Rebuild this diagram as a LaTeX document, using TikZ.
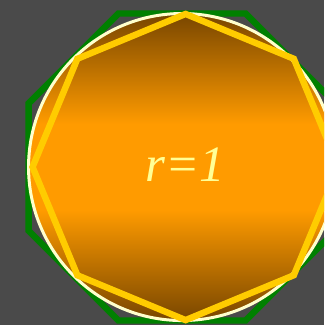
\documentclass[tikz,border=0pt]{standalone}
\usepackage{fontspec}
\setmainfont{Liberation Serif}
\definecolor{bgray}{RGB}{74,74,74}
\definecolor{dbrown}{RGB}{120,70,0}
\definecolor{orng}{RGB}{255,155,0}
\definecolor{rimcol}{RGB}{255,255,204}
\definecolor{goldline}{RGB}{255,204,0}
\definecolor{greenline}{RGB}{0,128,0}
\definecolor{labelcol}{RGB}{255,255,150}
\pgfdeclareverticalshading{discband}{100bp}{color(0bp)=(dbrown); color(25bp)=(dbrown); color(43bp)=(orng); color(57bp)=(orng); color(75bp)=(dbrown); color(100bp)=(dbrown)}
\tikzset{
  outerpoly/.style={draw=greenline, line width=3.2pt},
  rim/.style={draw=rimcol, line width=1.5pt},
  innerpoly/.style={draw=goldline, line width=3.2pt},
  radlabel/.style={text=labelcol, anchor=base, inner sep=0pt, font=\fontsize{25.5}{30}\selectfont\itshape}
}
\begin{document}
\begin{tikzpicture}[scale=2.7]
\fill[bgray] (-1.186,-1.029) rectangle (0.925,1.088);
\useasboundingbox (-1.186,-1.029) rectangle (0.925,1.088);
\clip (-1.186,-1.029) rectangle (0.925,1.088);
\draw[outerpoly] (22.5:1.0824) \foreach \a in {67.5,112.5,...,337.5} { -- (\a:1.0824) } -- cycle;
\shade[shading=discband] (0,0) circle (1);
\draw[rim] (0,0) circle (1);
\draw[innerpoly, shift={(0.023,0)}] (0:0.997) \foreach \a in {45,90,...,315} { -- (\a:0.997) } -- cycle;
\node[radlabel] (rlabel) at (0.02,-0.091) {r=1};
\end{tikzpicture}
\end{document}
